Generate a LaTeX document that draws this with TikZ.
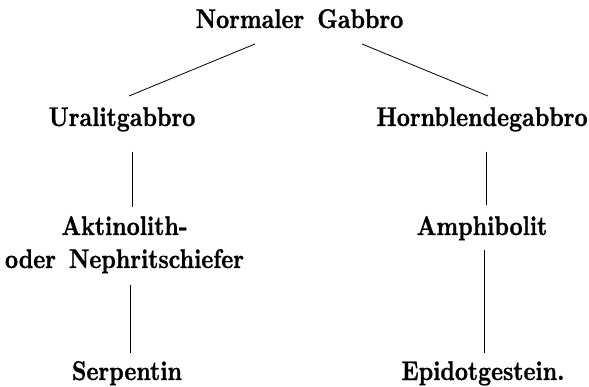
\documentclass[tikz,border=0pt]{standalone}
\usepackage{fontspec}
\newfontfamily\gabbrofont{lmroman10-bold.otf}[FakeStretch=0.84, FakeBold=1, WordSpace=1.5]
\usetikzlibrary{calc}

\begin{document}
\begin{tikzpicture}[x=1pt, y=-1pt,
    rock/.style={font=\gabbrofont\fontsize{27}{33}\selectfont, inner sep=0pt, anchor=base},
    link/.style={line width=0.8pt}]
  \useasboundingbox (0,0) rectangle (589,387);

  % Rock names
  \node[rock] (gabbro) at (299.5,28) {Normaler Gabbro};
  \node[rock] (uralit) at (122,126) {Uralitgabbro};
  \node[rock] (hornbl) at (482,126) {Hornblendegabbro};
  \node[rock, align=center] (aktino) at (124.5,268) {Aktinolith-\\oder Nephritschiefer};
  \node[rock] (amphi) at (482,235) {Amphibolit};
  \node[rock] (serpen) at (127,380) {Serpentin};
  \node[rock] (epidot) at (483,380) {Epidotgestein.};

  % Branches from the gabbro
  \draw[link] ($(gabbro.base)+(-44.5,16)$) -- ($(uralit.base)+(7,-30)$);
  \draw[link] ($(gabbro.base)+(62.5,16)$) -- ($(hornbl.base)+(6,-30)$);

  % Left column
  \draw[link] ($(uralit.base)+(10,26)$) -- ($(aktino.base)+(7.5,-61)$);
  \draw[link] ($(aktino.base)+(5.5,17)$) -- ($(serpen.base)+(3,-27)$);

  % Right column
  \draw[link] ($(hornbl.base)+(4,26)$) -- ($(amphi.base)+(4,-30)$);
  \draw[link] ($(amphi.base)+(2,15)$) -- ($(epidot.base)+(1,-27)$);
\end{tikzpicture}
\end{document}
